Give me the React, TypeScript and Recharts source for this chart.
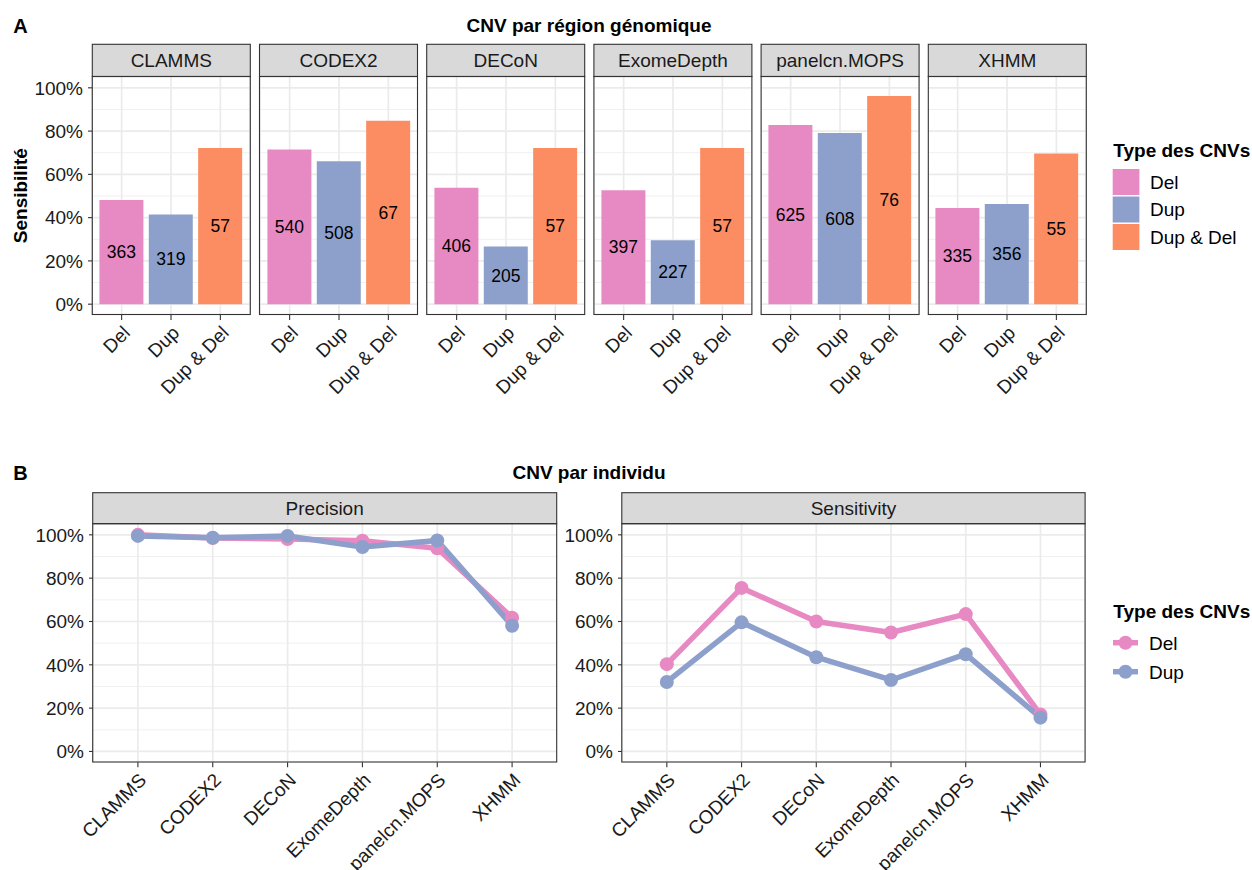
import React from "react";
import {
  BarChart,
  Bar,
  Cell,
  LabelList,
  LineChart,
  Line,
  XAxis,
  YAxis,
  CartesianGrid,
} from "recharts";

const FONT = '"Liberation Sans", Arial, Helvetica, sans-serif';

const methods = ["CLAMMS", "CODEX2", "DECoN", "ExomeDepth", "panelcn.MOPS", "XHMM"];
const cnvTypes = ["Del", "Dup", "Dup & Del"];
const typeColors = ["#E78AC3", "#8DA0CB", "#FC8D62"];

// A: sensitivity by genomic region (bar height) and number of CNVs (label)
const regionDel = [0.481, 0.715, 0.538, 0.526, 0.828, 0.444];
const regionDup = [0.415, 0.661, 0.267, 0.295, 0.791, 0.463];
const regionBoth = [0.722, 0.848, 0.722, 0.722, 0.962, 0.696];
const countDel = [363, 540, 406, 397, 625, 335];
const countDup = [319, 508, 205, 227, 608, 356];
const countBoth = [57, 67, 57, 57, 76, 55];

// B: per individual
const precisionDel = [1.0, 0.985, 0.981, 0.973, 0.938, 0.617];
const precisionDup = [0.995, 0.987, 0.995, 0.944, 0.974, 0.58];
const sensitivityDel = [0.403, 0.755, 0.6, 0.549, 0.634, 0.171];
const sensitivityDup = [0.321, 0.596, 0.435, 0.33, 0.449, 0.156];
const individualFacets = ["Precision", "Sensitivity"];

const majorTicks = [0, 0.2, 0.4, 0.6, 0.8, 1];
const minorTicks = [0.1, 0.3, 0.5, 0.7, 0.9];

const pct = (v: number) => `${Math.round(v * 100)}%`;

// layout (page pixels)
const A_STRIP_TOP = 44.3;
const A_TOP = 76.5;
const A_H = 238;
const A_W = 158;
const A_LEFTS = [92.3, 259.5, 426.7, 593.9, 761.1, 928.3];
const B_STRIP_TOP = 492.7;
const B_TOP = 523.7;
const B_H = 238.3;
const B_LEFTS = [92.7, 621.8];
const B_WIDTHS = [464, 463.3];
const Y_W = 70;
const TEXT = "#1A1A1A";

function RotatedTick(props: any) {
  const { x, y, payload } = props;
  return (
    <g transform={`translate(${x + 9.5},${y + 14})`}>
      <text textAnchor="end" transform="rotate(-45)" fontSize={19} fill={TEXT} fontFamily={FONT}>
        {payload.value}
      </text>
    </g>
  );
}

function Grid() {
  return (
    <>
      <CartesianGrid horizontalValues={minorTicks} vertical={false} stroke="#F0F0F0" strokeWidth={1} />
      <CartesianGrid horizontalValues={majorTicks} stroke="#EBEBEB" strokeWidth={1.7} />
    </>
  );
}

function RegionFacet({ index }: { index: number }) {
  const heights = [regionDel, regionDup, regionBoth];
  const counts = [countDel, countDup, countBoth];
  const data = cnvTypes.map((t, k) => ({ type: t, value: heights[k][index], n: counts[k][index] }));
  const showY = index === 0;
  const yW = showY ? Y_W : 0;
  const pad = A_W * 0.03125;
  return (
    <div style={{ position: "absolute", left: A_LEFTS[index] - yW, top: A_TOP }}>
      <BarChart
        width={A_W + yW}
        height={A_H + 100}
        data={data}
        margin={{ top: 0, right: 0, bottom: 0, left: 0 }}
        barCategoryGap="5%"
      >
        {Grid()}
        <XAxis
          dataKey="type"
          interval={0}
          height={100}
          padding={{ left: pad, right: pad }}
          tickSize={5}
          tickMargin={0}
          tickLine={{ stroke: "#333333", strokeWidth: 1.1 }}
          axisLine={false}
          tick={<RotatedTick />}
        />
        <YAxis
          hide={!showY}
          width={yW}
          type="number"
          domain={[-0.05, 1.05]}
          ticks={majorTicks}
          tickFormatter={pct}
          tickSize={4}
          tickMargin={5}
          tickLine={{ stroke: "#333333", strokeWidth: 1.1 }}
          axisLine={false}
          tick={{ fontSize: 19, fill: TEXT }}
        />
        <Bar dataKey="value" isAnimationActive={false}>
          {data.map((d, k) => (
            <Cell key={d.type} fill={typeColors[k]} />
          ))}
          <LabelList dataKey="n" position="center" fill="#000000" fontSize={17.5} />
        </Bar>
      </BarChart>
    </div>
  );
}

function IndividualFacet({ index }: { index: number }) {
  const del = index === 0 ? precisionDel : sensitivityDel;
  const dup = index === 0 ? precisionDup : sensitivityDup;
  const data = methods.map((m, i) => ({ method: m, del: del[i], dup: dup[i] }));
  const w = B_WIDTHS[index];
  const pad = (w * 0.6) / 6.2;
  return (
    <div style={{ position: "absolute", left: B_LEFTS[index] - Y_W, top: B_TOP }}>
      <LineChart
        width={w + Y_W}
        height={870 - B_TOP}
        data={data}
        margin={{ top: 0, right: 0, bottom: 0, left: 0 }}
      >
        {Grid()}
        <XAxis
          dataKey="method"
          scale="point"
          interval={0}
          height={870 - B_TOP - B_H}
          padding={{ left: pad, right: pad }}
          tickSize={5}
          tickMargin={0}
          tickLine={{ stroke: "#333333", strokeWidth: 1.1 }}
          axisLine={false}
          tick={<RotatedTick />}
        />
        <YAxis
          width={Y_W}
          type="number"
          domain={[-0.05, 1.05]}
          ticks={majorTicks}
          tickFormatter={pct}
          tickSize={4}
          tickMargin={5}
          tickLine={{ stroke: "#333333", strokeWidth: 1.1 }}
          axisLine={false}
          tick={{ fontSize: 19, fill: TEXT }}
        />
        <Line
          dataKey="del"
          stroke={typeColors[0]}
          strokeWidth={5.5}
          strokeLinejoin="round"
          dot={{ r: 7, fill: typeColors[0], stroke: "none" }}
          isAnimationActive={false}
        />
        <Line
          dataKey="dup"
          stroke={typeColors[1]}
          strokeWidth={5.5}
          strokeLinejoin="round"
          dot={{ r: 7, fill: typeColors[1], stroke: "none" }}
          isAnimationActive={false}
        />
      </LineChart>
    </div>
  );
}

function Strip({ x, y, w, h, label }: { x: number; y: number; w: number; h: number; label: string }) {
  return (
    <g>
      <rect x={x} y={y} width={w} height={h} fill="#D9D9D9" stroke="#333333" strokeWidth={1.1} />
      <text x={x + w / 2} y={y + h / 2 + 6.8} textAnchor="middle" fontSize={19} fill={TEXT}>
        {label}
      </text>
    </g>
  );
}

export default function App() {
  return (
    <div
      style={{
        position: "absolute",
        left: 0,
        top: 0,
        width: 1252,
        height: 870,
        background: "#ffffff",
        fontFamily: FONT,
        overflow: "hidden",
      }}
    >
      {methods.map((m, i) => (
        <RegionFacet key={m} index={i} />
      ))}
      {individualFacets.map((f, i) => (
        <IndividualFacet key={f} index={i} />
      ))}

      {/* titles, strips, panel borders and legends */}
      <svg
        width={1252}
        height={870}
        style={{ position: "absolute", left: 0, top: 0, pointerEvents: "none" }}
        fontFamily={FONT}
      >
        <text x={13.3} y={33.3} fontSize={20} fontWeight="bold" fill="#000">A</text>
        <text x={589} y={31.5} fontSize={19} fontWeight="bold" textAnchor="middle" fill="#000">
          CNV par région génomique
        </text>
        <text x={27} y={195.7} fontSize={19} fontWeight="bold" textAnchor="middle" fill="#000" transform="rotate(-90 27 195.7)">
          Sensibilité
        </text>
        {methods.map((m, i) => (
          <g key={m}>
            <Strip x={A_LEFTS[i]} y={A_STRIP_TOP} w={A_W} h={A_TOP - A_STRIP_TOP} label={m} />
            <rect x={A_LEFTS[i]} y={A_TOP} width={A_W} height={A_H} fill="none" stroke="#333333" strokeWidth={1.1} />
          </g>
        ))}

        <text x={13.3} y={480} fontSize={20} fontWeight="bold" fill="#000">B</text>
        <text x={589} y={479} fontSize={19} fontWeight="bold" textAnchor="middle" fill="#000">
          CNV par individu
        </text>
        {individualFacets.map((f, i) => (
          <g key={f}>
            <Strip x={B_LEFTS[i]} y={B_STRIP_TOP} w={B_WIDTHS[i]} h={B_TOP - B_STRIP_TOP} label={f} />
            <rect x={B_LEFTS[i]} y={B_TOP} width={B_WIDTHS[i]} height={B_H} fill="none" stroke="#333333" strokeWidth={1.1} />
          </g>
        ))}

        {/* legend A */}
        <text x={1113.3} y={156.7} fontSize={19} fontWeight="bold" fill="#000">Type des CNVs</text>
        {cnvTypes.map((t, k) => (
          <g key={t}>
            <rect x={1112.7} y={169 + k * 27.5} width={26.7} height={26} fill={typeColors[k]} />
            <text x={1150} y={169 + k * 27.5 + 13 + 6.8} fontSize={19} fill="#000">{t}</text>
          </g>
        ))}

        {/* legend B */}
        <text x={1113.3} y={618} fontSize={19} fontWeight="bold" fill="#000">Type des CNVs</text>
        {cnvTypes.slice(0, 2).map((t, k) => (
          <g key={t}>
            <line x1={1113} x2={1138} y1={642.7 + k * 29} y2={642.7 + k * 29} stroke={typeColors[k]} strokeWidth={5.5} />
            <circle cx={1125.5} cy={642.7 + k * 29} r={7} fill={typeColors[k]} />
            <text x={1149} y={642.7 + k * 29 + 6.8} fontSize={19} fill="#000">{t}</text>
          </g>
        ))}
      </svg>
    </div>
  );
}
